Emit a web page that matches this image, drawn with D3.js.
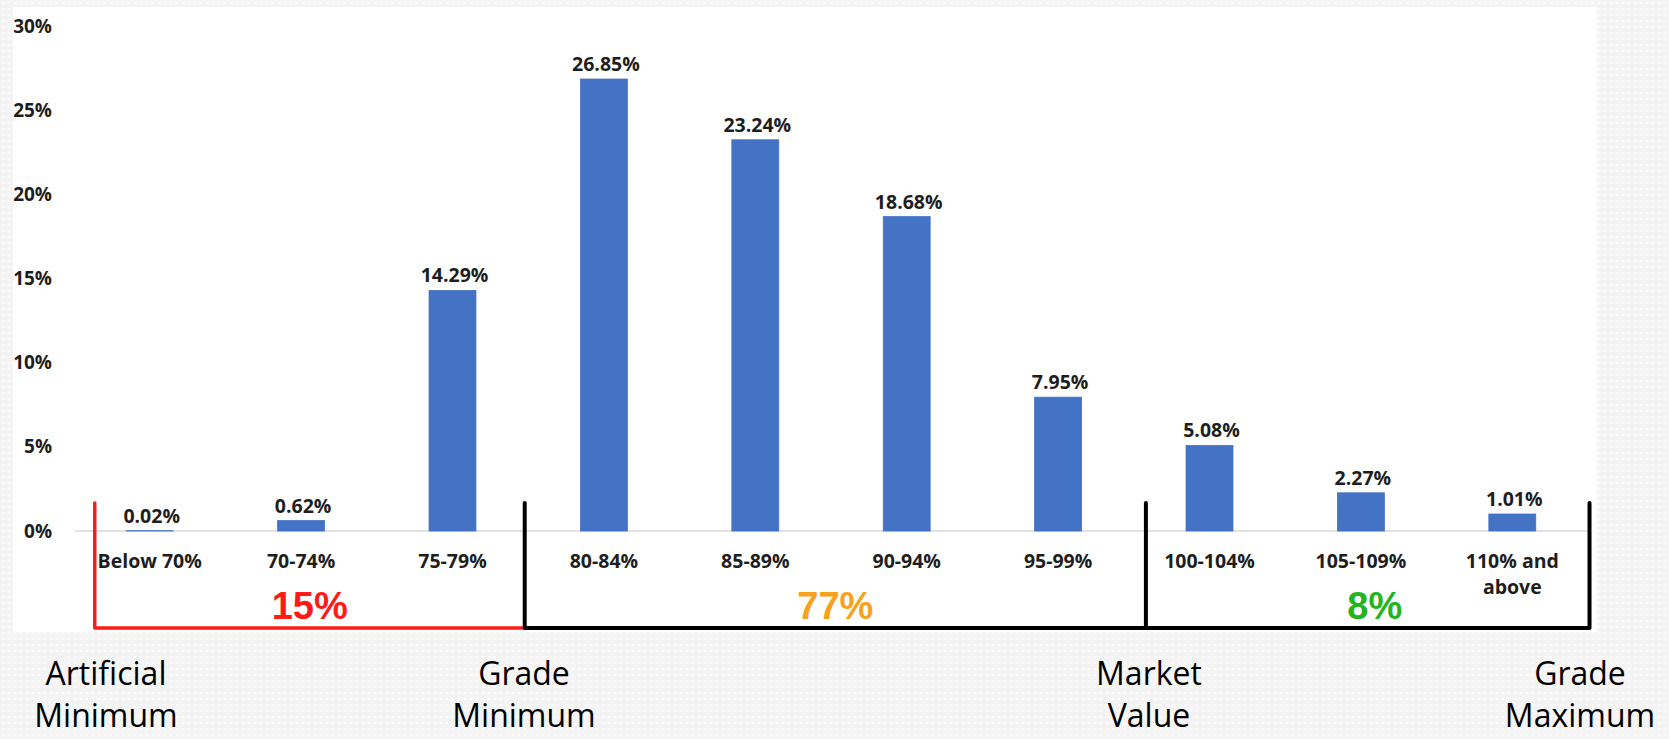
<!DOCTYPE html>
<html>
<head>
<meta charset="utf-8">
<script src="https://cdn.jsdelivr.net/npm/d3@7"></script>
<style>
  html, body { margin: 0; padding: 0; background: #f6f6f6; }
  svg { display: block; }
</style>
</head>
<body>
<svg id="chart" width="1669" height="739"></svg>
<script>
// Share of items by price band (percent of grade value)
const categories = ["Below 70%", "70-74%", "75-79%", "80-84%", "85-89%",
                    "90-94%", "95-99%", "100-104%", "105-109%", "110% and above"];
const shares = [0.02, 0.62, 14.29, 26.85, 23.24, 18.68, 7.95, 5.08, 2.27, 1.01];
const yTicks = [0, 5, 10, 15, 20, 25, 30];

// Group totals shown under the axis, and the reference points between them
const groupTotals = ["15%", "77%", "8%"];
const markerNames = [["Artificial", "Minimum"], ["Grade", "Minimum"],
                     ["Market", "Value"], ["Grade", "Maximum"]];

const W = 1669, H = 739;
const svg = d3.select("#chart");

// textured backdrop with a white plotting panel
const defs = svg.append("defs");
const pat = defs.append("pattern").attr("id", "grain")
  .attr("width", 6).attr("height", 6).attr("patternUnits", "userSpaceOnUse");
pat.append("rect").attr("width", 6).attr("height", 6).attr("fill", "#f4f4f4");
pat.append("circle").attr("cx", 3).attr("cy", 3).attr("r", 1.3).attr("fill", "#fbfbfb");
svg.append("rect").attr("width", W).attr("height", H).attr("fill", "url(#grain)");
svg.append("rect").attr("x", 13).attr("y", 7).attr("width", 1584).attr("height", 625)
  .attr("fill", "#ffffff");

const labelFont = "'Open Sans', 'Noto Sans', sans-serif";
const textColor = "#1e1e1e";

const x = d3.scaleBand().domain(categories).range([74, 1588])
  .paddingInner(0.69).paddingOuter(0.345);
const y = d3.scaleLinear().domain([0, 30]).range([531, 26]);

// baseline
svg.append("line")
  .attr("x1", 75).attr("x2", 1590)
  .attr("y1", y(0)).attr("y2", y(0))
  .attr("stroke", "#d9d9d9").attr("stroke-width", 1.5);

// y axis labels
const yAxis = svg.append("g").attr("transform", "translate(52,0)")
  .call(d3.axisLeft(y).tickValues(yTicks).tickFormat(d => d + "%").tickSize(0).tickPadding(0));
yAxis.select(".domain").remove();
yAxis.selectAll("text")
  .attr("font-family", labelFont).attr("font-weight", 700)
  .attr("font-size", "19px").attr("fill", textColor);

// bars
svg.append("g").selectAll("rect").data(shares).join("rect")
  .attr("x", (d, i) => x(categories[i]))
  .attr("y", d => y(d))
  .attr("width", x.bandwidth())
  .attr("height", d => y(0) - y(d))
  .attr("fill", "#4472c4")
  .attr("stroke", "#4472c4").attr("stroke-width", 0.8);

// value labels
svg.append("g").selectAll("text").data(shares).join("text")
  .attr("x", (d, i) => x(categories[i]) + x.bandwidth() / 2 + 2)
  .attr("y", d => y(d) - 8)
  .attr("text-anchor", "middle")
  .attr("font-family", labelFont).attr("font-weight", 700)
  .attr("font-size", "19.5px").attr("fill", textColor)
  .text(d => d.toFixed(2) + "%");

// category labels (wrapped where long)
const xAxis = svg.append("g").attr("transform", `translate(0,${y(0)})`)
  .call(d3.axisBottom(x).tickSize(0).tickPadding(23));
xAxis.select(".domain").remove();
xAxis.selectAll("text")
  .attr("font-family", labelFont).attr("font-weight", 700)
  .attr("font-size", "19.5px").attr("fill", textColor)
  .each(function (d) {
    const t = d3.select(this);
    const lines = d === "110% and above" ? ["110% and", "above"] : [d];
    t.text(null);
    lines.forEach((ln, k) => {
      t.append("tspan").attr("x", 0)
        .attr("dy", k === 0 ? "0.71em" : "26px")
        .text(ln);
    });
  });

// bracket positions in units of category steps from the first bar centre
const c0 = x(categories[0]) + x.bandwidth() / 2;
const at = p => c0 + p * x.step();
const edges = [-0.363, 2.477, 6.58, 9.51].map(at);
const topY = 503, lowY = 628;

svg.append("path")
  .attr("d", `M${edges[0]},${topY}V${lowY}H${edges[1]}`)
  .attr("fill", "none").attr("stroke", "#ff1a1a").attr("stroke-width", 3.5)
  .attr("stroke-linecap", "round").attr("stroke-linejoin", "round");
svg.append("path")
  .attr("d", `M${edges[1]},${topY}V${lowY}H${edges[3]}V${topY}M${edges[2]},${topY}V${lowY}`)
  .attr("fill", "none").attr("stroke", "#000").attr("stroke-width", 4)
  .attr("stroke-linecap", "round").attr("stroke-linejoin", "round");

// group totals
const totalColors = ["#ff1a1a", "#f7a11e", "#22b522"];
svg.append("g").selectAll("text").data(groupTotals).join("text")
  .attr("x", (d, i) => (edges[i] + edges[i + 1]) / 2 + (i === 2 ? 7 : 0))
  .attr("y", 619)
  .attr("text-anchor", "middle")
  .attr("font-family", "'Liberation Sans Narrow', 'Arial Narrow', sans-serif")
  .attr("font-weight", 700).attr("font-size", "38px")
  .attr("fill", (d, i) => totalColors[i])
  .text(d => d);

// reference point names
const nameX = [106, 524, 1149, 1580];
const names = svg.append("g").selectAll("text").data(markerNames).join("text")
  .attr("text-anchor", "middle")
  .attr("font-family", "'Open Sans', 'Noto Sans', sans-serif")
  .attr("font-size", "32px").attr("fill", "#000");
names.each(function (d, i) {
  const t = d3.select(this);
  d.forEach((ln, k) => {
    t.append("tspan").attr("x", nameX[i]).attr("y", k === 0 ? 685 : 727).text(ln);
  });
});
</script>
</body>
</html>
